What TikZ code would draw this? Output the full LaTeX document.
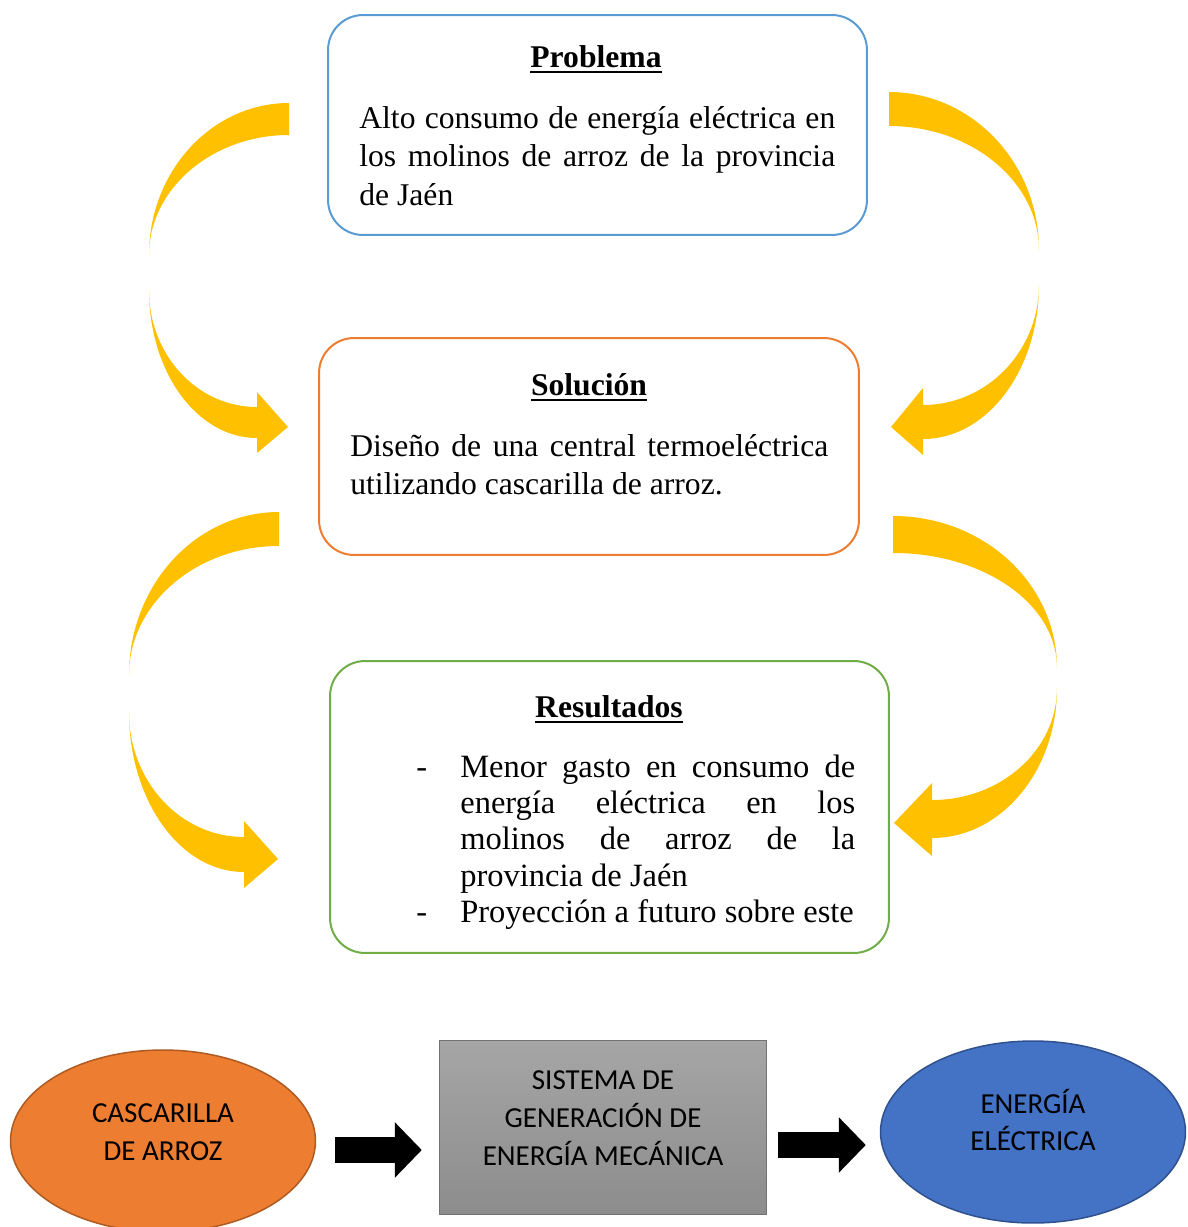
\documentclass[tikz,border=0pt]{standalone}
\usepackage{fontspec}
\setmainfont{Liberation Serif}
\newfontfamily\calibri{Carlito}
\usetikzlibrary{shapes.geometric, arrows.meta}
\definecolor{amarillo}{HTML}{FFC000}
\definecolor{azulborde}{HTML}{5B9BD5}
\definecolor{naranja}{HTML}{ED7D31}
\definecolor{verde}{HTML}{70AD47}
\definecolor{azul}{HTML}{4472C4}
\definecolor{azuloscuro}{HTML}{2F528F}
\definecolor{naranjaoscuro}{HTML}{AE5A21}
\tikzstyle{caja} = [draw, rounded corners=0.7cm, line width=0.04cm, inner sep=0pt]
\tikzstyle{flecha} = [fill=amarillo]
\tikzstyle{texto} = [inner sep=0pt, font=\fontsize{18}{22}\selectfont, align=justify]
\tikzstyle{titulo} = [inner sep=0pt, font=\fontsize{18}{22}\selectfont\bfseries]
\tikzstyle{bloque} = [line width=0.52cm, -{Triangle[length=0.54cm,width=1.08cm]}]
\tikzstyle{elipse} = [ellipse, draw, line width=0.03cm, minimum width=6.1cm, minimum height=3.64cm]
\tikzstyle{etiqueta} = [inner sep=0pt, font=\calibri\fontsize{16.5}{21.5}\selectfont, align=center]
\newsavebox{\cajasub}
\newcommand{\subrayado}[1]{\sbox{\cajasub}{#1}\rlap{\rule[-3.6pt]{\wd\cajasub}{1.6pt}}\usebox{\cajasub}}

\begin{document}
\begin{tikzpicture}[x=0.02cm, y=-0.02cm]
            \useasboundingbox (0,0) rectangle (1187,1227);
            % cajas
            \node[caja, draw=azulborde, minimum width=10.78cm, minimum height=4.4cm] (problema) at (597.5,125) {};
            \node[caja, draw=naranja, minimum width=10.8cm, minimum height=4.34cm] (solucion) at (589,446.5) {};
            \node[caja, draw=verde, minimum width=11.18cm, minimum height=5.84cm] (resultados) at (609.5,807) {};
            \node[titulo, anchor=base] (tprob) at (596,67) {\subrayado{Problema}};
            \node[texto, text width=9.52cm, anchor=base west] (xprob) at (359,128) {Alto consumo de energía eléctrica en\linebreak los molinos de arroz de la provincia\linebreak de Jaén};
            \node[titulo, anchor=base] (tsol) at (589,395) {\subrayado{Solución}};
            \node[texto, text width=9.56cm, anchor=base west] (xsol) at (350,456) {Diseño de una central termoeléctrica\linebreak utilizando cascarilla de arroz.};
            \node[titulo, anchor=base] (tres) at (609,717) {\subrayado{Resultados}};
            \node[texto, text width=8.78cm, anchor=base west, font=\fontsize{18.5}{20.7}\selectfont] (xres) at (416,777) {\hangindent=0.88cm\hangafter=1\noindent\makebox[0.88cm][l]{-}Menor gasto en consumo de\linebreak energía eléctrica en los\linebreak molinos de arroz de la\linebreak provincia de Jaén\par
            \hangindent=0.88cm\hangafter=1\noindent\makebox[0.88cm][l]{-}Proyección a futuro sobre este};
            % flechas curvas
            \fill[flecha] (289,103) .. controls (212,103) and (149,171) .. (149,255) .. controls (149,189) and (212,135) .. (289,135) -- cycle;
            \fill[flecha] (149,290) .. controls (149,372) and (197,438) .. (257,438) -- (257,453) -- (288,427) -- (257,392) -- (257,407) .. controls (197,407) and (149,355) .. (149,290) -- cycle;
            \fill[flecha] (889,92) .. controls (972,92) and (1039,163) .. (1039,250) .. controls (1039,182) and (972,126) .. (889,126) -- cycle;
            \fill[flecha] (1039,285) .. controls (1039,370) and (987,439) .. (923,439) -- (923,455) -- (891,427) -- (923,388) -- (923,405) .. controls (987,405) and (1039,351) .. (1039,285) -- cycle;
            \fill[flecha] (279,512) .. controls (196,512) and (129,585) .. (129,675) .. controls (129,604) and (196,546) .. (279,546) -- cycle;
            \fill[flecha] (129,712) .. controls (129,800) and (180,872) .. (244,872) -- (244,888) -- (278,859) -- (244,821) -- (244,837) .. controls (180,837) and (129,781) .. (129,712) -- cycle;
            \fill[flecha] (893,516) .. controls (984,516) and (1057,584) .. (1057,668) .. controls (1057,604) and (984,553) .. (893,553) -- cycle;
            \fill[flecha] (1057,688) .. controls (1057,771) and (1001,838) .. (932,838) -- (932,856) -- (894,823) -- (932,783) -- (932,800) .. controls (1001,800) and (1057,750) .. (1057,688) -- cycle;
            % sistema
            \node[elipse, fill=naranja, draw=naranjaoscuro] (cascarilla) at (163,1141) {};
            \node[etiqueta] (tcas) at (163,1132) {CASCARILLA\\DE ARROZ};
            \node[draw=black!55, line width=0.03cm, top color=black!35, bottom color=black!45, minimum width=6.54cm, minimum height=3.48cm, inner sep=0pt] (sistema) at (603,1127.5) {};
            \node[etiqueta] (tsis) at (603,1118) {SISTEMA DE\\GENERACIÓN DE\\ENERGÍA MECÁNICA};
            \node[elipse, fill=azul, draw=azuloscuro] (energia) at (1033,1132) {};
            \node[etiqueta] (tene) at (1033,1120) {ENERGÍA\\ELÉCTRICA};
            \draw[bloque, shorten <=0.38cm, shorten >=0.34cm] (cascarilla.east |- 0,1150) -- (sistema.west |- 0,1150);
            \draw[bloque, shorten <=0.22cm, shorten >=0.28cm] (sistema.east |- 0,1145) -- (energia.west |- 0,1145);
        \end{tikzpicture}
\end{document}
